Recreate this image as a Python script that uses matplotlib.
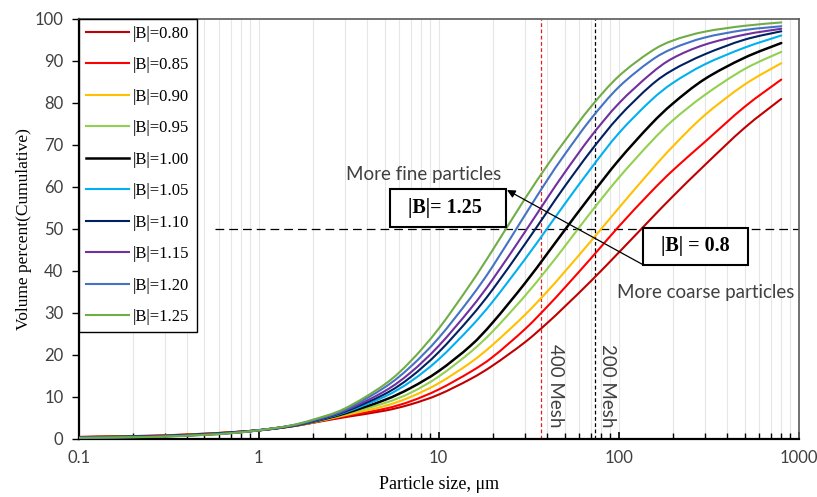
import matplotlib
matplotlib.use("Agg")
import matplotlib.pyplot as plt
from matplotlib.patches import Rectangle, PathPatch
from matplotlib.path import Path
from matplotlib.lines import Line2D
from matplotlib.ticker import FixedLocator, NullFormatter
import numpy as np

# particle size grid (um) and cumulative volume percent for each |B|
size_um = [0.1, 0.2, 0.3, 0.5, 0.7, 1, 1.5, 2, 3, 5, 7, 10, 15, 20, 30, 40, 50, 70, 100, 150, 200, 300, 500, 800]

b080 = [0.42, 0.63, 0.8, 1.2, 1.55, 2.0, 2.88, 3.79, 5.11, 6.66, 8.19, 10.5, 14.2, 17.45, 22.9, 27.5, 31.4, 37.5, 44.3, 52.2, 57.7, 65.1, 74.0, 80.9]
b085 = [0.4, 0.6, 0.77, 1.16, 1.53, 2.0, 2.9, 3.84, 5.34, 7.11, 8.93, 11.72, 15.9, 19.5, 26.0, 31.4, 35.9, 42.9, 50.5, 58.6, 63.9, 70.6, 79.0, 85.5]
b090 = [0.37, 0.56, 0.73, 1.13, 1.5, 2.0, 2.92, 3.89, 5.56, 7.78, 9.97, 13.2, 18.1, 22.4, 29.4, 35.0, 39.7, 47.0, 54.9, 63.7, 69.6, 77.0, 84.3, 89.4]
b095 = [0.35, 0.53, 0.7, 1.1, 1.48, 2.0, 2.93, 3.96, 5.81, 8.47, 10.95, 14.8, 20.6, 25.6, 33.9, 40.4, 45.7, 53.9, 62.1, 70.5, 75.8, 81.8, 88.0, 92.1]
b100 = [0.32, 0.5, 0.66, 1.06, 1.45, 2.0, 2.96, 4.05, 6.0, 9.2, 12.1, 16.1, 22.1, 27.7, 36.9, 44.0, 49.6, 57.9, 66.3, 74.7, 79.8, 85.6, 90.7, 94.2]
b105 = [0.3, 0.46, 0.63, 1.03, 1.42, 2.0, 2.99, 4.11, 6.22, 10.0, 13.65, 18.9, 26.5, 32.7, 42.6, 50.0, 55.8, 64.3, 72.7, 80.4, 84.7, 89.1, 93.1, 96.0]
b110 = [0.27, 0.43, 0.6, 1.0, 1.4, 2.0, 3.02, 4.21, 6.41, 10.6, 14.7, 20.6, 28.9, 35.6, 46.2, 54.0, 60.0, 68.5, 76.6, 84.0, 87.8, 91.5, 95.0, 97.0]
b115 = [0.25, 0.4, 0.56, 0.96, 1.36, 2.0, 3.06, 4.31, 6.6, 11.3, 15.8, 22.1, 30.9, 38.0, 49.1, 57.2, 63.3, 71.9, 79.8, 86.8, 90.6, 93.8, 96.2, 97.6]
b120 = [0.22, 0.38, 0.53, 0.93, 1.33, 2.0, 3.09, 4.4, 6.86, 12.2, 17.2, 24.0, 33.5, 41.1, 53.1, 61.5, 67.6, 76.1, 83.7, 89.9, 92.9, 95.5, 97.3, 98.2]
b125 = [0.2, 0.35, 0.5, 0.9, 1.3, 2.0, 3.14, 4.52, 7.16, 12.9, 18.5, 26.2, 36.8, 45.0, 57.0, 65.0, 70.8, 79.0, 86.3, 92.1, 94.8, 96.9, 98.3, 99.1]

series = [b080, b085, b090, b095, b100, b105, b110, b115, b120, b125]
labels = ["|B|=0.80", "|B|=0.85", "|B|=0.90", "|B|=0.95", "|B|=1.00",
          "|B|=1.05", "|B|=1.10", "|B|=1.15", "|B|=1.20", "|B|=1.25"]
colors = ["#C00000", "#FF0000", "#FFC000", "#92D050", "#000000",
          "#00B0F0", "#002060", "#7030A0", "#4472C4", "#70AD47"]

mesh_400 = 37
mesh_200 = 74

sans = ["Lato", "DejaVu Sans"]
serif = ["Liberation Serif", "DejaVu Serif"]
txt_col = "#404040"


def smooth_path(xs, ys):
    # Catmull-Rom through the points in log-x space, written as cubic Beziers
    lx = np.log10(xs)
    y = np.asarray(ys, dtype=float)
    n = len(lx)
    verts = [(xs[0], y[0])]
    codes = [Path.MOVETO]
    for i in range(n - 1):
        i0 = max(i - 1, 0)
        i3 = min(i + 2, n - 1)
        c1x = lx[i] + (lx[i + 1] - lx[i0]) / 6
        c1y = y[i] + (y[i + 1] - y[i0]) / 6
        c2x = lx[i + 1] - (lx[i3] - lx[i]) / 6
        c2y = y[i + 1] - (y[i3] - y[i]) / 6
        verts += [(10 ** c1x, c1y), (10 ** c2x, c2y), (xs[i + 1], y[i + 1])]
        codes += [Path.CURVE4] * 3
    return Path(verts, codes)


fig = plt.figure(figsize=(8.17, 4.97), dpi=100)
ax = fig.add_axes([0.0963, 0.1173, 0.8813, 0.8451])
ax.set_xscale("log")
ax.set_xlim(0.1, 1000)
ax.set_ylim(0, 100)

# vertical grid on every minor/major decade step
grid_x = [m * 10.0 ** e for e in range(-1, 3) for m in range(1, 10)] + [1000]
for gx in grid_x:
    ax.axvline(gx, color="#E6E6E6", lw=0.8, zorder=0)

handles = []
for vals, lab, col in zip(series, labels, colors):
    lw = 1.8 if col == "#000000" else 1.5
    ax.add_patch(PathPatch(smooth_path(size_um, vals), fill=False, ec=col,
                           lw=lw, capstyle="round", zorder=3))
    handles.append(Line2D([], [], color=col, lw=lw, label=lab))

ax.axhline(50, xmin=(np.log10(0.57) + 1) / 4, xmax=1, color="black",
           lw=0.9, ls=(0, (7, 4)), zorder=2)
ax.axvline(mesh_400, color="#E02020", lw=0.9, ls=(0, (3, 2)), zorder=2)
ax.axvline(mesh_200, color="black", lw=0.9, ls=(0, (3, 2)), zorder=2)

ax.text(44.8, 12.7, "400 Mesh", rotation=-90, ha="center", va="center",
        family=sans, fontsize=13.5, color=txt_col)
ax.text(86.7, 12.7, "200 Mesh", rotation=-90, ha="center", va="center",
        family=sans, fontsize=13.5, color=txt_col)

ax.text(8.29, 63.0, "More fine particles", ha="center", va="center",
        family=sans, fontsize=13.5, color=txt_col)
ax.text(306, 34.9, "More coarse particles", ha="center", va="center",
        family=sans, fontsize=13.5, color=txt_col)

# labelled boxes
ax.add_patch(Rectangle((5.36, 50.4), 23.6 - 5.36, 9.1, fill=True, fc="white",
                       ec="black", lw=1.5, zorder=5))
ax.text(10.9, 55.0, "|B|= 1.25", ha="center", va="center", family=serif,
        fontsize=14.5, fontweight="bold", zorder=6)
ax.add_patch(Rectangle((136.8, 41.4), 523.6 - 136.8, 8.8, fill=True, fc="white",
                       ec="black", lw=1.5, zorder=5))
ax.text(267.6, 45.8, "|B| = 0.8", ha="center", va="center", family=serif,
        fontsize=14.5, fontweight="bold", zorder=6)
ax.annotate("", xy=(23.96, 59.2), xytext=(136.8, 41.4),
            arrowprops=dict(arrowstyle="-|>", color="black", lw=0.9,
                            mutation_scale=12, shrinkA=0, shrinkB=0),
            zorder=6)

ax.xaxis.set_major_locator(FixedLocator([0.1, 1, 10, 100, 1000]))
ax.xaxis.set_minor_locator(FixedLocator([g for g in grid_x if g not in (0.1, 1, 10, 100, 1000)]))
ax.xaxis.set_minor_formatter(NullFormatter())
ax.set_xticklabels(["0.1", "1", "10", "100", "1000"])
ax.set_yticks(range(0, 101, 10))
ax.tick_params(axis="x", which="major", direction="in", length=5, width=1.2, pad=8)
ax.tick_params(axis="x", which="minor", direction="in", length=4, width=1)
ax.tick_params(axis="y", direction="out", length=5, width=1, pad=6)
for t in ax.get_xticklabels() + ax.get_yticklabels():
    t.set_family(sans)
    t.set_fontsize(12)
    t.set_color(txt_col)

for side in ("left", "bottom"):
    ax.spines[side].set_color("black")
    ax.spines[side].set_linewidth(1.6)
for side in ("top", "right"):
    ax.spines[side].set_color("#595959")
    ax.spines[side].set_linewidth(1.2)

ax.set_xlabel("Particle size, μm", family=serif, fontsize=13, labelpad=7)
ax.set_ylabel("Volume percent(Cumulative)", family=serif, fontsize=12.5, labelpad=2)

leg = ax.legend(handles=handles, loc="upper left", bbox_to_anchor=(0.0, 1.0),
                prop={"family": serif, "size": 12}, frameon=True,
                fancybox=False, edgecolor="black", framealpha=1,
                handlelength=2.6, handletextpad=0.25, labelspacing=0.93,
                borderpad=0.42, borderaxespad=0)
leg.get_frame().set_linewidth(1.0)
leg.set_zorder(7)

fig.savefig("out.png", dpi=100)
